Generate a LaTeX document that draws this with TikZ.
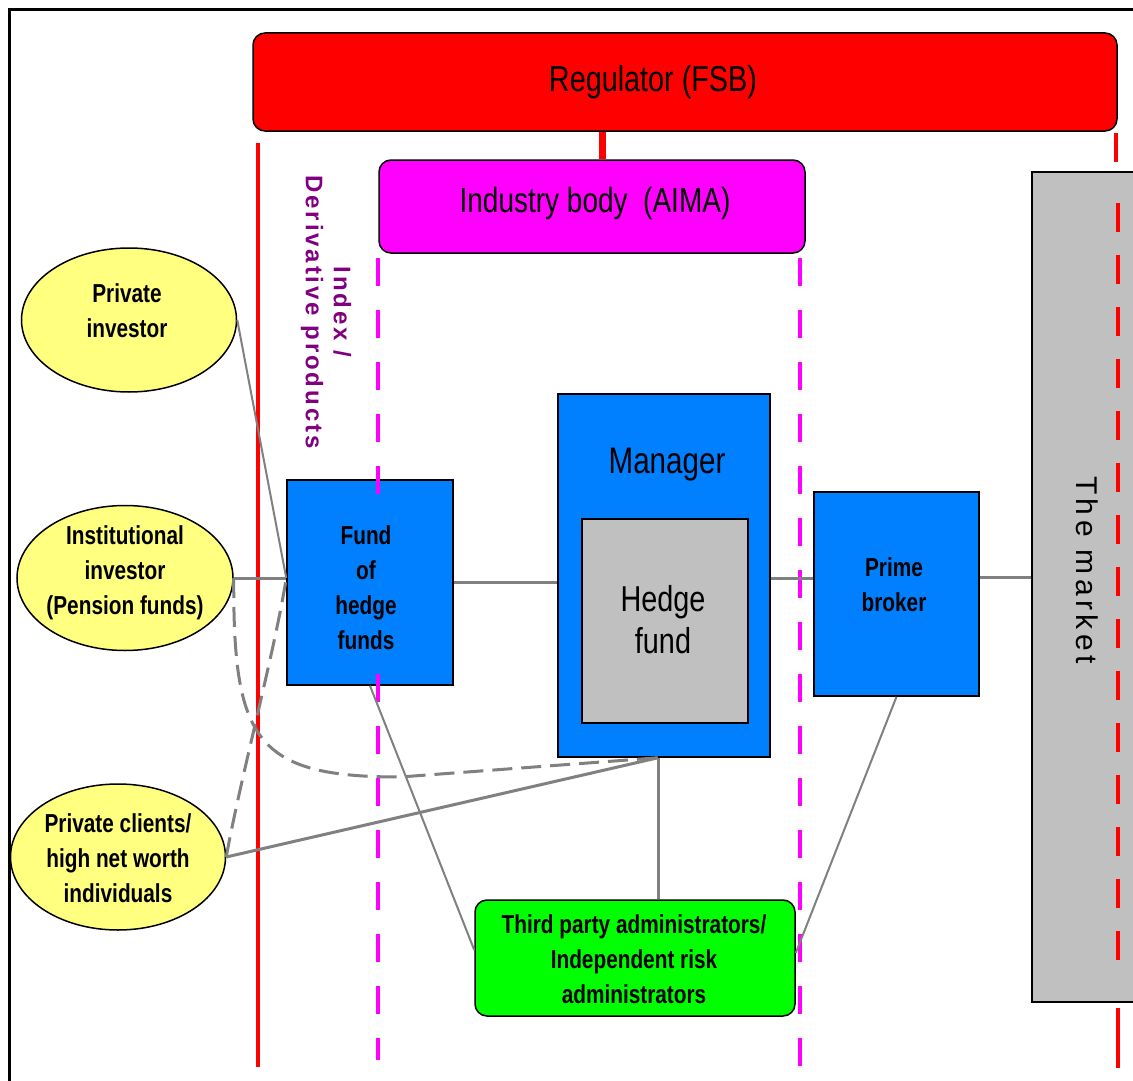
\documentclass[tikz,border=0pt]{standalone}
\usepackage{fontspec}
\setmainfont{Liberation Sans}
\newfontfamily\narrowfont[FakeStretch=0.8]{Liberation Sans}
\newfontfamily\idxfont[LetterSpace=12]{Liberation Sans Bold}
\newfontfamily\mktfont[LetterSpace=15]{Liberation Sans}
\usetikzlibrary{shapes.geometric}
\definecolor{regred}{RGB}{255,0,0}
\definecolor{aimamag}{RGB}{255,0,255}
\definecolor{boxblue}{RGB}{0,128,255}
\definecolor{boxgrey}{RGB}{192,192,192}
\definecolor{admgreen}{RGB}{0,255,0}
\definecolor{ellyellow}{RGB}{255,255,128}
\definecolor{linkgrey}{RGB}{128,128,128}
\definecolor{idxpurple}{RGB}{128,0,128}
\tikzset{
  framestyle/.style={draw=black, line width=3},
  roundbox/.style={rectangle, rounded corners=12, draw=black, line width=1.5, inner sep=0},
  bluebox/.style={rectangle, draw=black, line width=1.5, fill=boxblue, inner sep=0},
  greybox/.style={rectangle, draw=black, line width=1.5, fill=boxgrey, inner sep=0},
  ellbox/.style={ellipse, draw=black, line width=1.5, fill=ellyellow, inner sep=0},
  boldtxt/.style={align=center, font=\narrowfont\bfseries\fontsize{26}{35}\selectfont, inner sep=0},
  regtxt/.style={align=center, font=\narrowfont\fontsize{36}{42}\selectfont, inner sep=0},
  redline/.style={draw=regred, line width=4.7},
  reddash/.style={draw=regred, line width=4.7, dash pattern=on 29 off 23},
  magdash/.style={draw=aimamag, line width=4.7, dash pattern=on 28 off 24},
  link/.style={draw=linkgrey, line width=3},
  thinlink/.style={draw=linkgrey, line width=2},
  dashlink/.style={draw=linkgrey, line width=3, dash pattern=on 20 off 9},
}
\begin{document}
\begin{tikzpicture}[x=1pt, y=-1pt]
\useasboundingbox (0,0) rectangle (1133,1081);
\fill[white] (0,0) rectangle (1133,1081);
% frame
\draw[framestyle] (9,1081) -- (9,10) -- (1133,10);

% regulator and industry body
\node[roundbox, fill=regred, minimum width=864, minimum height=98] (reg) at (685,82) {};
\node[regtxt] (regtext) at (653,82) {Regulator (FSB)};
\node[roundbox, fill=aimamag, minimum width=426, minimum height=93] (aima) at (592,206.5) {};
\node[regtxt, font=\narrowfont\fontsize{35}{40}\selectfont] (aimatext) at (595,203) {Industry body~ (AIMA)};
\draw[draw=regred, line width=7] ([xshift=10pt]aima.north) -- ([xshift=10pt]aima.north |- reg.south);

% red solid boundary
\draw[redline] (258,143) -- (258,1067);

% the market
\node[greybox, minimum width=110, minimum height=830] (market) at (1087,587) {};
\node[rotate=-90, inner sep=0, font=\mktfont\fontsize{30}{34}\selectfont] (markettext) at (1087,570) {The market};
\draw[redline] (1116,133) -- (1116,162);
\draw[reddash] (1118,203) -- (1118,963);
\draw[redline] (1118,1008) -- (1118,1068);

% index / derivative text
\node[rotate=-90, align=center, inner sep=0, text=idxpurple,
  font=\idxfont\fontsize{24}{28}\selectfont] (idxtext) at (326,312) {Index /\\Derivative products};

% boxes
\node[bluebox, minimum width=166, minimum height=205] (fund) at (370,582.5) {};
\node[bluebox, minimum width=212, minimum height=363] (manager) at (664,575.5) {};
\node[regtxt, font=\narrowfont\fontsize{37}{42}\selectfont] (managertext) at (667,465) {Manager};
\node[greybox, minimum width=166, minimum height=204] (hedge) at (665,621) {};
\node[regtxt, font=\narrowfont\fontsize{36}{42}\selectfont] (hedgetext) at (663,620) {Hedge\\fund};
\node[bluebox, minimum width=165, minimum height=204] (prime) at (896.5,594) {};
\node[boldtxt] (primetext) at (894,585) {Prime\\broker};
\node[roundbox, fill=admgreen, minimum width=320, minimum height=116] (admin) at (635,958) {};
\node[boldtxt] (admintext) at (634,959) {Third party administrators/\\Independent risk\\administrators};

% magenta dashed boundaries
\draw[magdash] (378,258) -- (378,1060);
\draw[magdash] (800,258) -- (800,1067);
\node[fill=boxblue, inner sep=0, minimum width=110, minimum height=170, boldtxt] (fundtext) at (366,588) {Fund\\of\\hedge\\funds};

% investors
\node[ellbox, minimum width=215, minimum height=144] (pinv) at (129,320) {};
\node[boldtxt] (pinvtext) at (127,311) {Private\\investor};
\node[ellbox, minimum width=216, minimum height=145] (inst) at (125,578) {};
\node[boldtxt] (insttext) at (125,573) {Institutional\\investor\\(Pension funds)};
\node[ellbox, minimum width=215, minimum height=146] (pcli) at (118,857) {};
\node[boldtxt] (pclitext) at (118,858) {Private clients/\\high net worth\\individuals};

% connectors
\coordinate (mgrfoot) at ([xshift=-6pt]manager.south);
\coordinate (fundin) at ([yshift=4.5pt]fund.west);
\draw[link] (inst.east) -- (inst.east -| fund.west);
\draw[link] (fund.east) -- (fund.east -| manager.west);
\draw[link] ([yshift=-2.5pt]manager.east) -- ([yshift=-2.5pt]manager.east -| prime.west);
\draw[link] ([yshift=17pt]prime.east) -- ([yshift=17pt]prime.east -| market.west);
\draw[thinlink] (pinv.east) -- (fundin);
\draw[thinlink] (fund.south) -- ([yshift=8pt]admin.west);
\draw[thinlink] (prime.south) -- ([yshift=5pt]admin.east);
\draw[link] (mgrfoot) -- (mgrfoot |- admin.north);
\draw[link] (pcli.east) -- (mgrfoot);
\draw[dashlink] (inst.east) .. controls (233,740) and (255,777) .. (400,777) -- (mgrfoot);
\draw[dashlink] (pcli.east) .. controls (240,780) and (275,650) .. (fundin);
\end{tikzpicture}
\end{document}
